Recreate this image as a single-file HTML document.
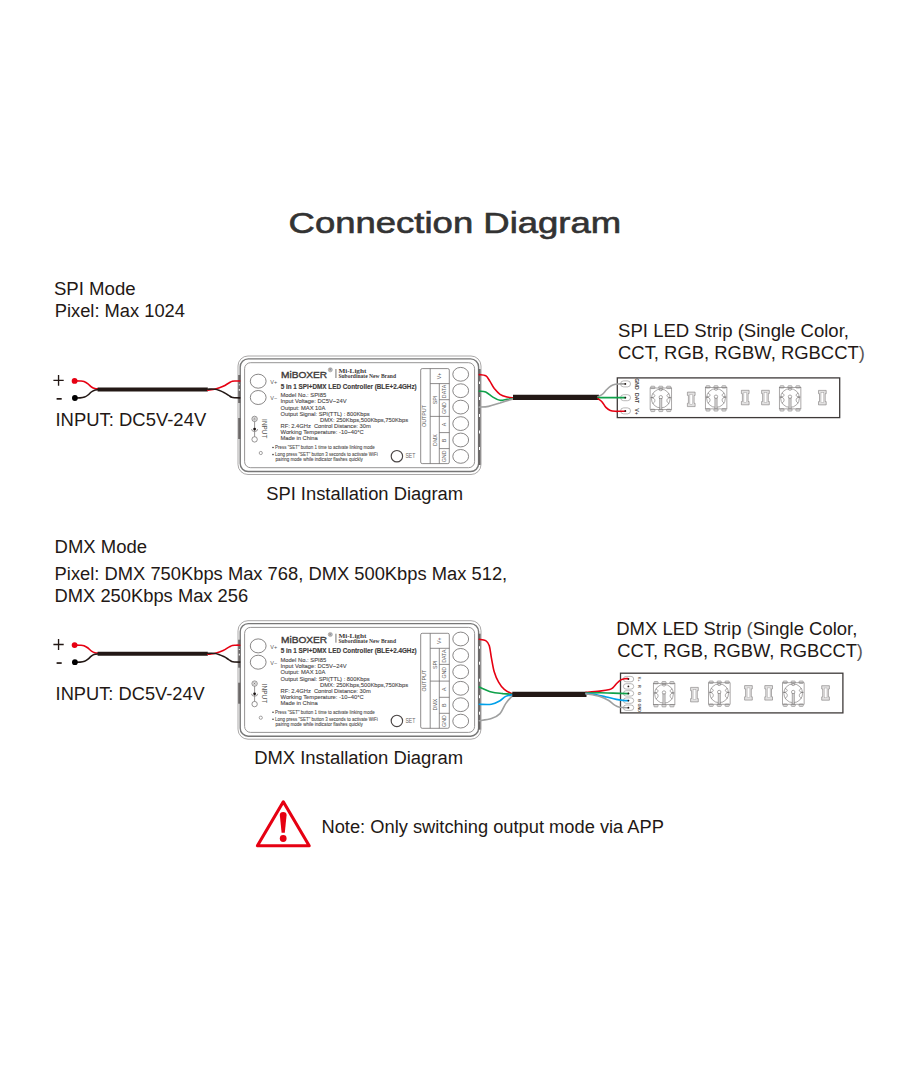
<!DOCTYPE html>
<html><head><meta charset="utf-8">
<style>
html,body{margin:0;padding:0;background:#fff;width:910px;height:1080px;overflow:hidden}
svg{display:block}
text{font-family:"Liberation Sans",sans-serif}
.t{fill:#231815;font-size:18px}
.s{fill:#4d4a4a;font-size:5.95px;stroke:#4d4a4a;stroke-width:0.12px}
.b{fill:#4d4a4a;font-size:4.5px;stroke:#4d4a4a;stroke-width:0.08px}
.w{fill:none;stroke-width:1.6;stroke-linecap:round}
</style></head><body>
<svg width="910" height="1080" viewBox="0 0 910 1080">
<defs>
<g id="ctrl">
  <!-- housing -->
  <rect x="238" y="356" width="243" height="118.5" rx="10" fill="none" stroke="#a09e9e" stroke-width="0.9"/>
  <rect x="240.2" y="358.9" width="238.4" height="112.6" rx="8" fill="none" stroke="#777" stroke-width="1.4"/>
  <rect x="244.6" y="362.7" width="230" height="105" rx="6" fill="none" stroke="#8a8888" stroke-width="0.9"/>
  <!-- left dark side -->
  <rect x="238.2" y="375" width="2.3" height="28" fill="#6a6767"/>
  <rect x="238.2" y="418" width="2.3" height="21" fill="#6a6767"/>
  <!-- right dark side -->
  <rect x="478.3" y="369" width="2.3" height="96" fill="#6a6767"/>
  <g fill="#fff">
    <rect x="479" y="381.5" width="1" height="2.5"/>
    <rect x="479" y="397" width="1" height="3"/>
    <rect x="479" y="414" width="1" height="3"/>
    <rect x="479" y="430.5" width="1" height="3"/>
    <rect x="479" y="447" width="1" height="3"/>
    <rect x="238.8" y="384.3" width="1" height="1"/>
    <rect x="238.8" y="389" width="1" height="1.8"/>
  </g>
  <!-- V+ V- terminals -->
  <g fill="none" stroke="#6a6767" stroke-width="0.8">
    <ellipse cx="258.2" cy="381.2" rx="7.9" ry="7"/>
    <ellipse cx="258.2" cy="397.5" rx="7.9" ry="7"/>
  </g>
  <text x="270.3" y="384" style="font-size:5.5px;fill:#595757">V+</text>
  <text x="270.3" y="400" style="font-size:5.5px;fill:#595757">V−</text>
  <!-- INPUT jack icon -->
  <g fill="none" stroke="#6a6767" stroke-width="0.7">
    <circle cx="254.6" cy="418.9" r="2.7"/>
    <circle cx="254.6" cy="418.9" r="1.5" stroke-width="0.4"/>
    <circle cx="254.6" cy="439.4" r="2.7"/>
    <line x1="254.6" y1="421.6" x2="254.6" y2="436.7"/>
    <path d="M251.6 429.1 a3 2.4 0 0 0 6 0" stroke-width="0.9" stroke="#8a8787"/>
  </g>
  <circle cx="254.6" cy="418.9" r="0.6" fill="#6a6767"/>
  <circle cx="254.6" cy="429.1" r="1.4" fill="#1a1414"/>
  <text transform="translate(261.6,419.1) rotate(90)" style="font-size:6.5px;fill:#595757" textLength="19.3" lengthAdjust="spacingAndGlyphs">INPUT</text>
  <circle cx="260.8" cy="453" r="1.6" fill="none" stroke="#6a6767" stroke-width="0.6"/>
  <!-- Logo -->
  <text x="281" y="377.9" style="font-size:9.9px;fill:#3e3a39;stroke:#3e3a39;stroke-width:0.38px" textLength="46.2" lengthAdjust="spacingAndGlyphs">MiBOXER</text>
  <circle cx="330.3" cy="369.8" r="2.1" fill="#c9c7c7" stroke="#8d8a8a" stroke-width="0.5"/><text x="329.3" y="371.1" style="font-size:3px;fill:#6d6a6a">R</text>
  <rect x="335.6" y="369" width="0.7" height="9" fill="#3e3a39"/>
  <text x="338.4" y="373.2" style="font-family:'Liberation Serif',serif;font-size:5.6px;font-weight:bold;fill:#3e3a39" textLength="28" lengthAdjust="spacingAndGlyphs">Mi-Light</text>
  <text x="338.4" y="378.2" style="font-family:'Liberation Serif',serif;font-size:5.2px;font-weight:bold;fill:#3e3a39" textLength="57.6" lengthAdjust="spacingAndGlyphs">Subordinate New Brand</text>
  <text x="280.7" y="388.8" style="font-size:6.7px;font-weight:bold;fill:#3e3a39;stroke:#3e3a39;stroke-width:0.15px" textLength="136" lengthAdjust="spacingAndGlyphs">5 in 1 SPI+DMX LED Controller (BLE+2.4GHz)</text>
  <!-- specs -->
  <text class="s" x="280.5" y="397.1" textLength="45.7" lengthAdjust="spacingAndGlyphs">Model No.: SPI85</text>
  <text class="s" x="280.5" y="403.4" textLength="66.0" lengthAdjust="spacingAndGlyphs">Input Voltage: DC5V~24V</text>
  <text class="s" x="280.5" y="409.6" textLength="44.9" lengthAdjust="spacingAndGlyphs">Output: MAX 10A</text>
  <text class="s" x="280.5" y="415.9" textLength="89.1" lengthAdjust="spacingAndGlyphs">Output Signal: SPI(TTL) : 800Kbps</text>
  <text class="s" x="320" y="422.0" textLength="88.2" lengthAdjust="spacingAndGlyphs">DMX: 250Kbps,500Kbps,750Kbps</text>
  <text class="s" x="280.5" y="428.1" xml:space="preserve" textLength="90.2" lengthAdjust="spacingAndGlyphs">RF: 2.4GHz  Control Distance: 30m</text>
  <text class="s" x="280.5" y="434.1" textLength="83.3" lengthAdjust="spacingAndGlyphs">Working Temperature: -10~40°C</text>
  <text class="s" x="280.5" y="440.3" textLength="37.2" lengthAdjust="spacingAndGlyphs">Made in China</text>
  <circle cx="273" cy="447.5" r="0.8" fill="#3e3a39"/>
  <circle cx="273" cy="454.6" r="0.8" fill="#3e3a39"/>
  <text class="b" x="275" y="449.1" textLength="99.7" lengthAdjust="spacingAndGlyphs">Press "SET" button 1 time to activate linking mode</text>
  <text class="b" x="275" y="456.3" textLength="102.7" lengthAdjust="spacingAndGlyphs">Long press "SET" button 3 seconds to activate WiFi</text>
  <text class="b" x="275.6" y="461.3" textLength="87.2" lengthAdjust="spacingAndGlyphs">pairing mode while indicator flashes quickly</text>
  <circle cx="396.9" cy="456.2" r="5.7" fill="none" stroke="#4a4545" stroke-width="1.15"/>
  <text x="405.4" y="458.4" style="font-size:6.6px;fill:#6a6767" textLength="10" lengthAdjust="spacingAndGlyphs">SET</text>
  <!-- output table -->
  <g fill="none" stroke="#6a6767" stroke-width="0.75">
    <rect x="420.7" y="368.6" width="28.6" height="95" rx="1.5"/>
    <line x1="430.2" y1="368.6" x2="430.2" y2="463.6"/>
    <line x1="430.2" y1="383.6" x2="449.3" y2="383.6"/>
    <line x1="439.3" y1="383.6" x2="439.3" y2="463.6"/>
    <line x1="430.2" y1="416.4" x2="449.3" y2="416.4"/>
    <line x1="439.3" y1="399.7" x2="449.3" y2="399.7"/>
    <line x1="439.3" y1="432.6" x2="449.3" y2="432.6"/>
    <line x1="439.3" y1="448.6" x2="449.3" y2="448.6"/>
  </g>
  <g style="font-size:5.3px;fill:#595757" text-anchor="middle">
    <text transform="translate(441,376) rotate(-90)">V+</text>
    <text transform="translate(446.3,391.5) rotate(-90)">DATA</text>
    <text transform="translate(446.3,408) rotate(-90)">GND</text>
    <text transform="translate(437,400) rotate(-90)">SPI</text>
    <text transform="translate(426.4,416) rotate(-90)">OUTPUT</text>
    <text transform="translate(446.3,424.5) rotate(-90)">A</text>
    <text transform="translate(437,440) rotate(-90)">DMX</text>
    <text transform="translate(446.3,440.5) rotate(-90)">B</text>
    <text transform="translate(446.3,456.4) rotate(-90)">GND</text>
  </g>
  <g fill="none" stroke="#6a6767" stroke-width="0.8">
    <ellipse cx="460.7" cy="374.3" rx="7.9" ry="6.9"/>
    <ellipse cx="460.7" cy="390.7" rx="7.9" ry="6.9"/>
    <ellipse cx="460.7" cy="407.1" rx="7.9" ry="6.9"/>
    <ellipse cx="460.7" cy="423.6" rx="7.9" ry="6.9"/>
    <ellipse cx="460.7" cy="440" rx="7.9" ry="6.9"/>
    <ellipse cx="460.7" cy="456.4" rx="7.9" ry="6.9"/>
  </g>
</g>


<g id="led">
  <g fill="#dedddd" stroke="#7d7a7a" stroke-width="0.55">
    <rect x="0.6" y="0.2" width="4.2" height="2.4" rx="0.8"/>
    <rect x="8.6" y="0.2" width="4.2" height="2.4" rx="0.8"/>
    <rect x="16.5" y="0.2" width="4.3" height="2.4" rx="0.8"/>
    <rect x="0.6" y="23.2" width="4.2" height="2.4" rx="0.8"/>
    <rect x="8.6" y="23.2" width="4.2" height="2.4" rx="0.8"/>
    <rect x="16.5" y="23.2" width="4.3" height="2.4" rx="0.8"/>
  </g>
  <g fill="none" stroke="#7d7a7a" stroke-width="0.65">
    <rect x="0" y="2" width="21.6" height="21.4"/>
    <circle cx="10.7" cy="12.5" r="9.4"/>
    <path d="M9 3.1 a1.7 1.7 0 0 0 3.4 0"/>
    <path d="M2.4 7.7 C5.5 8.5 6.0 11.2 1.4 11.6 C6.0 12.0 5.5 16.7 2.4 17.5 M0.4 11.6 H3.2"/>
    <path d="M19.2 7.7 C16.1 8.5 15.6 11.2 20.2 11.6 C15.6 12.0 16.1 16.7 19.2 17.5 M21.2 11.6 H18.4"/>
    <circle cx="10.7" cy="11.2" r="1.7"/>
  </g>
  <rect x="9.6" y="12.7" width="2.2" height="10.5" fill="#d0cfcf" stroke="#7d7a7a" stroke-width="0.5"/>
</g>
<g id="res">
  <path d="M0.3 0.3 H8 V3.6 H7 V11.5 H8 V14.8 H0.3 V11.5 H1.3 V3.6 H0.3 Z" fill="#e2e1e1" stroke="#7d7a7a" stroke-width="0.6" stroke-linejoin="round"/>
  <rect x="2.8" y="2.6" width="2.8" height="9.8" fill="#fff" stroke="#a09e9e" stroke-width="0.45"/>
</g>
<g id="strip">
  <rect x="617.3" y="377.9" width="222.4" height="39.7" fill="none" stroke="#3e3a39" stroke-width="1.3"/>
  <use href="#led" x="650.1" y="386"/>
  <use href="#led" x="705.3" y="385.5"/>
  <use href="#led" x="779.3" y="385.5"/>
  <use href="#res" x="687.1" y="391.8"/>
  <use href="#res" x="741.1" y="390"/>
  <use href="#res" x="761.3" y="390"/>
  <use href="#res" x="818.2" y="390.1"/>
</g>

</defs>

<!-- Title -->
<text x="288.6" y="232.6" style="font-size:30.4px;fill:#333;stroke:#333;stroke-width:0.65px" textLength="332.6" lengthAdjust="spacingAndGlyphs">Connection Diagram</text>

<!-- ===== SPI section ===== -->
<text class="t" x="53.9" y="294.6" textLength="81.7" lengthAdjust="spacingAndGlyphs">SPI Mode</text>
<text class="t" x="54.7" y="316.8" textLength="130.3" lengthAdjust="spacingAndGlyphs">Pixel: Max 1024</text>

<text class="t" x="55.5" y="426.2" textLength="150.7" lengthAdjust="spacingAndGlyphs">INPUT: DC5V-24V</text>

<use href="#ctrl"/>

<!-- input wires SPI -->
<g id="inw">
<path d="M53.4 380.3 H63.7 M58.55 374.9 V385.7" stroke="#231815" stroke-width="1.35" fill="none"/>
<rect x="56.6" y="398" width="5.1" height="1.7" fill="#231815"/>
<path class="w" d="M74.6 380.9 C75.5 380.9 78.4 380.9 80.0 381.0 C81.6 381.1 82.7 381.0 84.0 381.5 C85.3 382.0 86.8 382.9 88.0 383.8 C89.2 384.7 90.3 386.2 91.5 387.0 C92.7 387.8 93.8 388.3 94.9 388.6 C96.0 388.9 97.7 388.8 98.3 388.9" stroke="#e60012"/>
<path class="w" d="M74.9 398.0 C75.8 398.0 78.4 398.0 80.0 397.9 C81.6 397.8 83.3 397.6 84.6 397.1 C85.9 396.6 86.9 395.9 88.0 395.0 C89.1 394.1 90.3 392.8 91.3 392.0 C92.3 391.2 92.8 390.8 94.0 390.4 C95.2 390.0 97.6 389.8 98.3 389.7" stroke="#231815"/>
<line x1="97.6" y1="389.5" x2="207.8" y2="389.5" stroke="#231815" stroke-width="4"/>
<path class="w" d="M207.8 390.1 C209.1 389.9 212.8 389.6 215.4 389.0 C218.0 388.4 220.9 387.4 223.2 386.3 C225.5 385.2 227.8 383.5 229.3 382.7 C230.8 381.9 231.2 381.6 232.3 381.3 C233.4 381.0 234.8 381.1 236.0 381.0 C237.2 380.9 239.2 381.0 239.8 381.0" stroke="#e60012"/>
<path class="w" d="M207.8 389.2 C209.1 389.2 212.7 388.8 215.4 389.3 C218.1 389.8 221.6 391.4 223.8 392.4 C226.0 393.4 227.4 394.6 228.7 395.4 C230.0 396.2 230.6 396.9 231.7 397.3 C232.8 397.7 233.7 397.7 235.0 397.8 C236.3 397.9 239.0 397.9 239.8 397.9" stroke="#231815"/>
<circle cx="74.6" cy="380.9" r="2.9" fill="#e60012"/>
<circle cx="74.9" cy="398" r="2.9" fill="#000"/>
</g>
<!-- output wires SPI -->
<path class="w" d="M479.3 374.6 C480.4 374.8 483.9 374.6 485.7 375.7 C487.5 376.9 488.6 379.3 490.0 381.4 C491.4 383.6 492.6 386.4 494.3 388.6 C496.0 390.7 497.9 392.9 500.0 394.3 C502.1 395.7 505.0 396.5 507.1 397.1 C509.3 397.7 511.9 397.7 514 397.9" stroke="#e60012"/>
<path class="w" d="M479.3 391.1 C480.4 391.3 483.5 391.1 485.7 392.1 C488.0 393.1 490.5 395.8 492.9 397.1 C495.2 398.5 497.6 399.9 500.0 400.3 C502.4 400.6 505.0 399.6 507.1 399.3 C509.3 399.0 511.9 398.7 514 398.6" stroke="#0fa14a"/>
<path class="w" d="M479.3 407.1 C480.8 407.0 485.1 407.1 488.6 406.4 C492.0 405.7 496.0 404.1 500.0 402.9 C504.0 401.6 510.7 399.5 514 398.9" stroke="#9fa0a0"/>
<line x1="513" y1="397.4" x2="599" y2="397.4" stroke="#231815" stroke-width="5.4"/>

<!-- SPI LED strip -->
<text class="t" x="618.1" y="337.3" textLength="230.9" lengthAdjust="spacingAndGlyphs">SPI LED Strip (Single Color,</text>
<text class="t" x="618.0" y="358.6" textLength="246.9" lengthAdjust="spacingAndGlyphs">CCT, RGB, RGBW, RGBCCT<tspan style="fill:#5a5656">)</tspan></text>
<use href="#strip"/>
<g fill="#fff" stroke="#8c8a8a" stroke-width="0.6">
  <rect x="620.6" y="380.9" width="9.9" height="6" rx="3"/>
  <rect x="620.6" y="394.7" width="9.9" height="6" rx="3"/>
  <rect x="620.6" y="407.9" width="9.9" height="6" rx="3"/>
</g>
<path class="w" d="M598.0 396.7 C598.8 396.3 601.2 395.3 602.6 394.2 C604.0 393.1 605.1 391.2 606.5 389.8 C607.9 388.4 609.4 386.9 610.9 386.0 C612.4 385.1 613.8 384.7 615.3 384.3 C616.8 383.9 618.5 384.0 620.2 383.9 C621.9 383.8 624.5 383.9 625.4 383.9" stroke="#9fa0a0"/>
<path class="w" d="M598 397.6 L625.4 397.6" stroke="#0fa14a"/>
<path class="w" d="M598.0 398.6 C598.7 399.2 600.8 400.4 602.1 401.9 C603.4 403.4 604.5 406.0 605.9 407.4 C607.3 408.8 608.7 409.9 610.3 410.5 C611.9 411.1 613.7 411.2 615.3 411.3 C616.9 411.4 618.3 411.3 620.0 411.3 C621.7 411.3 624.5 411.3 625.4 411.3" stroke="#e60012"/>
<g fill="#231815"><circle cx="625.3" cy="383.9" r="0.9"/><circle cx="625.3" cy="397.7" r="0.9"/><circle cx="625.3" cy="410.9" r="0.9"/></g>
<g style="font-size:5.3px;fill:#3e3a39;font-weight:bold" text-anchor="middle">
  <text transform="translate(635.1,384) rotate(90)" textLength="11.3" lengthAdjust="spacingAndGlyphs">GND</text>
  <text transform="translate(635.1,398.1) rotate(90)" textLength="10.1" lengthAdjust="spacingAndGlyphs">DAT</text>
  <text transform="translate(635.1,411.6) rotate(90)" textLength="6.6" lengthAdjust="spacingAndGlyphs">V+</text>
</g>

<text class="t" x="266.2" y="499.9" textLength="196.8" lengthAdjust="spacingAndGlyphs">SPI Installation Diagram</text>

<!-- ===== DMX section ===== -->
<text class="t" x="54.6" y="553.3" textLength="92.4" lengthAdjust="spacingAndGlyphs">DMX Mode</text>
<text class="t" x="54.6" y="579.5" textLength="452.6" lengthAdjust="spacingAndGlyphs">Pixel: DMX 750Kbps Max 768, DMX 500Kbps Max 512,</text>
<text class="t" x="54.6" y="602.3" textLength="193.6" lengthAdjust="spacingAndGlyphs">DMX 250Kbps Max 256</text>

<text class="t" x="55.6" y="699.6" textLength="149.2" lengthAdjust="spacingAndGlyphs">INPUT: DC5V-24V</text>

<use href="#ctrl" transform="translate(0,264.7)"/>

<use href="#inw" transform="translate(0,264.2)"/>

<path class="w" d="M479.3 639.3 C480.4 639.5 484.0 639.6 485.7 640.7 C487.4 641.8 488.3 642.9 489.3 645.7 C490.2 648.6 490.6 653.5 491.4 657.9 C492.3 662.3 493.1 668.1 494.3 672.1 C495.5 676.2 496.9 679.3 498.6 682.1 C500.2 685.0 501.9 687.3 504.3 689.3 C506.7 691.3 511.4 693.5 513.5 694.3" stroke="#e60012"/>
<path class="w" d="M479.3 687.1 C481.3 688.0 487.5 691.1 491.4 692.1 C495.4 693.2 499.3 693.2 502.9 693.6 C506.4 693.9 511.2 694.2 513.5 694.3" stroke="#0fa14a"/>
<path class="w" d="M479.3 704.3 C481.3 704.3 488.0 704.9 491.4 704.3 C494.9 703.7 497.6 702.0 500.0 700.7 C502.4 699.4 503.6 697.4 505.7 696.4 C507.9 695.4 511.7 695.0 513.5 694.7" stroke="#00a0e9"/>
<path class="w" d="M479.3 720.7 C481.3 720.4 488.0 719.8 491.4 718.6 C494.9 717.4 497.6 716.1 500.0 713.6 C502.4 711.1 503.6 706.7 505.7 703.6 C507.9 700.5 511.7 696.4 513.5 695.0" stroke="#9fa0a0"/>
<line x1="512.3" y1="694.3" x2="586.5" y2="694.3" stroke="#231815" stroke-width="5.3"/>

<text class="t" x="616.3" y="634.7" textLength="241.0" lengthAdjust="spacingAndGlyphs">DMX LED Strip <tspan style="fill:#5a5656">(</tspan>Single Color,</text>
<text class="t" x="617.3" y="657" textLength="245.7" lengthAdjust="spacingAndGlyphs">CCT, RGB, RGBW, RGBCCT<tspan style="fill:#5a5656">)</tspan></text>
<use href="#strip" transform="translate(3.2,295.3)"/>
<g fill="#fff" stroke="#8c8a8a" stroke-width="0.6">
  <rect x="623.4" y="676.4" width="10.3" height="5.4" rx="2.7"/>
  <rect x="623.4" y="683.7" width="10.3" height="5.4" rx="2.7"/>
  <rect x="623.4" y="690.7" width="10.3" height="5.4" rx="2.7"/>
  <rect x="623.4" y="697.9" width="10.3" height="5.4" rx="2.7"/>
  <rect x="623.4" y="705" width="10.3" height="5.4" rx="2.7"/>
</g>
<path class="w" d="M586.0 692.4 C588.3 692.2 595.8 691.6 599.8 691.1 C603.8 690.6 607.5 690.0 609.7 689.4 C611.9 688.8 611.8 688.6 613.0 687.6 C614.2 686.6 615.6 684.5 616.9 683.2 C618.2 681.9 619.6 680.6 620.9 679.9 C622.2 679.1 623.5 678.9 624.8 678.7 C626.1 678.5 627.9 678.7 628.5 678.7" stroke="#e60012"/>
<path class="w" d="M586.0 693.1 C588.3 693.0 595.3 692.8 599.8 692.8 C604.3 692.8 608.2 693.0 613.0 693.1 C617.8 693.2 625.9 693.5 628.5 693.6" stroke="#0fa14a"/>
<path class="w" d="M586.0 693.5 C587.8 693.7 593.1 694.1 596.5 694.7 C599.9 695.3 603.1 696.2 606.4 697.0 C609.7 697.8 613.6 698.8 616.3 699.4 C619.0 700.0 620.8 700.2 622.8 700.4 C624.8 700.6 627.5 700.6 628.5 700.6" stroke="#00a0e9"/>
<path class="w" d="M586.0 693.9 C588.3 694.3 596.1 695.3 599.8 696.4 C603.5 697.5 605.9 698.9 608.3 700.3 C610.7 701.7 612.4 703.7 614.3 704.9 C616.2 706.1 617.2 706.8 619.6 707.3 C622.0 707.8 627.0 707.7 628.5 707.8" stroke="#9fa0a0"/>
<g fill="#231815"><circle cx="628.4" cy="679.1" r="0.9"/><circle cx="628.4" cy="686.4" r="0.9"/><circle cx="628.4" cy="693.4" r="0.9"/><circle cx="628.4" cy="700.6" r="0.9"/><circle cx="628.4" cy="707.7" r="0.9"/></g>
<g style="font-size:3.8px;fill:#3e3a39;font-weight:bold" text-anchor="middle">
  <text transform="translate(637.8,679.1) rotate(90)">V+</text>
  <text transform="translate(637.8,686.4) rotate(90)">R</text>
  <text transform="translate(637.8,693.4) rotate(90)">G</text>
  <text transform="translate(637.8,700.6) rotate(90)">B</text>
  <text transform="translate(637.8,707.7) rotate(90)">GND</text>
</g>

<text class="t" x="254.2" y="764.2" textLength="208.8" lengthAdjust="spacingAndGlyphs">DMX Installation Diagram</text>

<!-- Note -->
<path d="M283.3 801.8 L257.4 845.7 L309.2 845.7 Z" fill="none" stroke="#e60012" stroke-width="3.1" stroke-linejoin="round"/>
<path d="M279.8 815 Q279.8 812 283.2 812 Q286.6 812 286.6 815 L284.8 832.7 L281.6 832.7 Z" fill="#e60012"/>
<circle cx="283.2" cy="838.5" r="3.4" fill="#e60012"/>
<text class="t" x="321.5" y="832.9" textLength="342.4" lengthAdjust="spacingAndGlyphs">Note: Only switching output mode via APP</text>
</svg>
</body></html>
